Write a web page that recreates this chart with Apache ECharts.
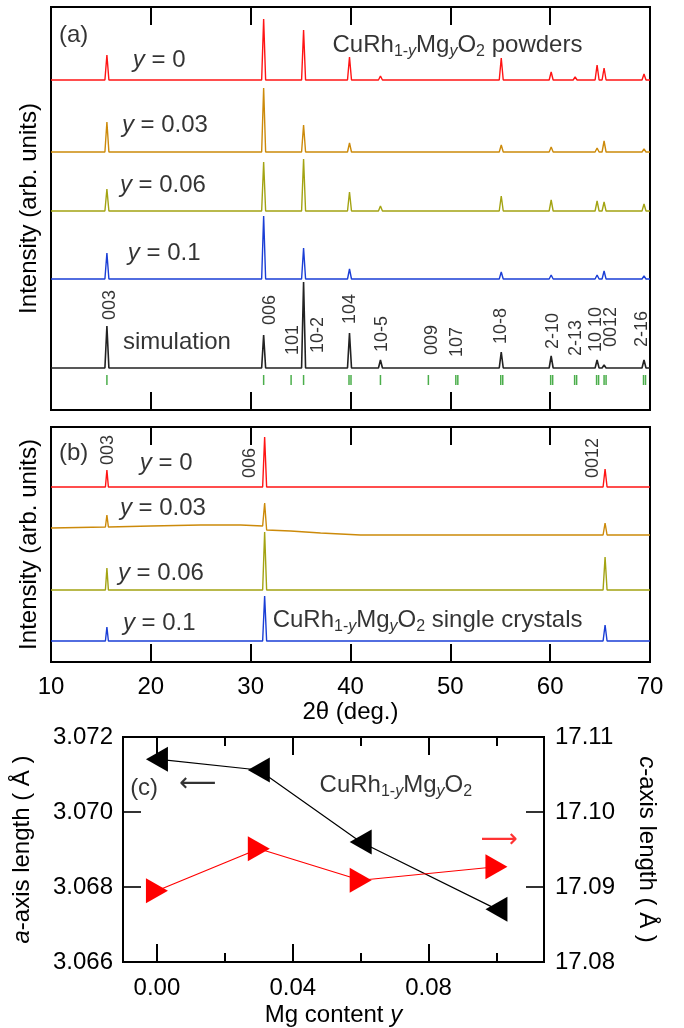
<!DOCTYPE html>
<html><head><meta charset="utf-8">
<script src="https://cdn.jsdelivr.net/npm/echarts@6/dist/echarts.min.js"></script>
<style>html,body{margin:0;padding:0;background:#fff}#c{width:684px;height:1028px}</style>
</head><body><div id="c"></div>
<script>
// ================= DATA =================
// Panel (a): powder XRD (arb. units), peak positions (2θ, deg) and peak heights
const peakNames = ['003','006','101','10-2','104','10-5','009','107','10-8','2-10','2-13','10 10','0012','2-16'];
const peakPos   = [15.6, 31.3, 34.1, 35.3, 39.9, 43.0, 47.8, 50.6, 55.1, 60.1, 62.5, 64.7, 65.4, 69.4];
const powderY000 = [25, 61, 0, 50, 23, 4, 0, 1.5, 22, 8, 3, 15, 12, 6];
const powderY003 = [30, 64, 0, 27, 9, 2, 0, 1, 7, 5, 1, 4, 11, 3];
const powderY006 = [22, 49, 0, 52, 19, 5, 0, 1, 15, 11, 2, 10, 9, 7];
const powderY010 = [26, 63, 0, 31, 10, 2, 0, 1, 7, 4, 1, 4, 8, 3];
const simulation = [42, 33, 1, 86, 35, 8, 0.5, 1, 16, 12, 2, 8, 3, 8];
const powderOffsets = [330, 258, 199, 131, 42];   // vertical offsets of the stacked curves
const braggPos = [15.6, 31.3, 34.05, 35.3, 39.85, 40.05, 43.0, 47.8, 50.55, 50.75, 55.05, 55.25,
                  60.05, 60.25, 62.45, 62.65, 64.65, 64.85, 65.4, 65.6, 69.35, 69.55];
const braggLevel = 30;

// Panel (b): single crystals [2θ, intensity (offset included)]
const xtalY000 = [[10,175],[15.45,175],[15.6,192],[15.75,175],[31.2,175],[31.4,225],[31.6,175],[65.3,175],[65.5,193],[65.7,175],[70,175]];
const xtalY003 = [[10,134],[15.45,135],[15.6,147],[15.75,135],[20,136],[25,137],[29,137],[31.2,136],[31.4,159],[31.6,132],[34,131],[37,129],[41,127],[50,127],[65.3,127],[65.5,139],[65.7,127],[70,127]];
const xtalY006 = [[10,72],[15.45,72],[15.6,94],[15.75,72],[31.2,72],[31.4,130],[31.6,72],[65.3,72],[65.5,105],[65.7,72],[70,72]];
const xtalY010 = [[10,21],[15.45,21],[15.6,35],[15.75,21],[31.2,21],[31.4,66],[31.6,21],[65.3,21],[65.5,37],[65.7,21],[70,21]];

// Panel (c): lattice parameters
const mgContent = [0.00, 0.03, 0.06, 0.10];
const aAxisLen  = [3.07141, 3.07112, 3.06920, 3.06741];
const cAxisLen  = [17.0895, 17.0951, 17.0909, 17.0927];

const twoThetaTicks = [10, 20, 30, 40, 50, 60, 70];
const mgMajorTicks = [0.00, 0.04, 0.08];
const mgMinorTicks = [0.02, 0.06, 0.10];
const aTicks = [3.068, 3.070];
const cTicks = [17.09, 17.10];

// ================= LAYOUT / STYLE =================
const FONT = '"Liberation Sans", Arial, Helvetica, sans-serif';
const FS = 24;
const colors = ['#ff1414', '#cc8a0a', '#a3a312', '#1a3ed6', '#222222'];
const rich = {
  n:  {fontFamily: FONT, fontSize: FS, lineHeight: 30, verticalAlign: 'middle', color: '#000'},
  i:  {fontFamily: FONT, fontSize: FS, fontStyle: 'italic', lineHeight: 30, verticalAlign: 'middle', color: '#000'},
  s:  {fontFamily: FONT, fontSize: 16, lineHeight: 14, verticalAlign: 'bottom', color: '#000'},
  si: {fontFamily: FONT, fontSize: 16, fontStyle: 'italic', lineHeight: 14, verticalAlign: 'bottom', color: '#000'},
  ar: {fontFamily: '"DejaVu Sans"', fontSize: 26, lineHeight: 30, verticalAlign: 'middle', color: '#000'},
  arr:{fontFamily: '"DejaVu Sans"', fontSize: 26, lineHeight: 30, verticalAlign: 'middle', color: '#ff0000'}
};
const formula = 'CuRh{s|1-}{si|y}Mg{si|y}O{s|2}';

// annotation anchors (data coordinates of each panel)
const annotA = [
  {v: [10.8, 375], t: '(a)'},
  {v: [18.2, 350], t: '{i|y} = 0'},
  {v: [17.1, 285], t: '{i|y} = 0.03'},
  {v: [16.9, 225], t: '{i|y} = 0.06'},
  {v: [17.7, 157], t: '{i|y} = 0.1'},
  {v: [17.2, 68],  t: 'simulation'},
  {v: [38.2, 365], t: formula + ' powders'}
];
const peakLabelX = [15.9, 31.9, 34.25, 36.7, 40.0, 43.2, 48.15, 50.7, 55.1, 60.3, 62.6, 64.6, 66.1, 69.25];
const peakLabelY = [90, 85, 55, 57, 86, 58, 55, 53, 66, 61, 54, 58, 63, 63];
const annotB = [
  {v: [10.8, 209], t: '(b)'},
  {v: [18.9, 199], t: '{i|y} = 0'},
  {v: [16.9, 154], t: '{i|y} = 0.03'},
  {v: [16.7, 89],  t: '{i|y} = 0.06'},
  {v: [17.2, 39],  t: '{i|y} = 0.1'},
  {v: [32.2, 42],  t: formula + ' single crystals'}
];
const peakLabelsB = [{v: [15.75, 197], t: '003'}, {v: [29.95, 184], t: '006'}, {v: [64.25, 184], t: '0012'}];
const annotC = [
  {v: [-0.0079, 3.07064], t: '(c)'},
  {v: [0.0065, 3.07075], t: '{ar|⟵}'},
  {v: [0.0479, 3.07072], t: formula},
  {v: [0.0953, 3.06925], t: '{arr|⟶}'}
];
const MG_MIN = -0.01, MG_MAX = 0.114;

// ================= BUILD =================
function pattern(base, heights) {
  const pts = [[10, base]];
  peakPos.forEach((p, k) => {
    const h = heights[k];
    if (h > 0) { pts.push([p - 0.2, base], [p, base + h], [p + 0.2, base]); }
  });
  pts.push([70, base]);
  return pts;
}
const powders = [powderY000, powderY003, powderY006, powderY010, simulation];

function textSeries(xi, yi, items, extraLabel) {
  return {
    type: 'scatter', xAxisIndex: xi, yAxisIndex: yi, symbolSize: 0, silent: true, z: 10, clip: false,
    data: items.map(o => ({value: o.v, name: o.t})),
    label: Object.assign({
      show: true, position: 'inside', align: 'left', verticalAlign: 'middle',
      formatter: p => p.name, fontFamily: FONT, fontSize: FS, color: '#000', lineHeight: 30, rich: rich
    }, extraLabel || {})
  };
}
// y-axis tick marks of panel (c), placed on the frame edges through the axis scales
function tickMarks(yi, xEdge, ticks, dir) {
  return {
    type: 'scatter', xAxisIndex: 4, yAxisIndex: yi, symbol: 'rect', symbolSize: [18, 2],
    symbolOffset: [dir * 9, 0], clip: false, silent: true, z: 6,
    itemStyle: {color: '#000'}, data: ticks.map(t => [xEdge, t])
  };
}

const tickStyle = (len) => ({show: true, inside: true, length: len, lineStyle: {color: '#000', width: 2}});
const noLine = {show: false, onZero: false};
function xA(grid, pos, extra) {
  return Object.assign({
    type: 'value', gridIndex: grid, position: pos, min: 10, max: 70, interval: 10,
    axisLine: noLine, axisTick: tickStyle(18), axisLabel: {show: false}, splitLine: {show: false}
  }, extra || {});
}
function xC(pos, ticks, len, labels) {
  return {
    type: 'value', gridIndex: 2, position: pos, min: MG_MIN, max: MG_MAX,
    axisLine: noLine,
    axisTick: Object.assign(tickStyle(len), {customValues: ticks}),
    axisLabel: labels ? {show: true, customValues: ticks, margin: 14, formatter: v => v.toFixed(2),
                         fontFamily: FONT, fontSize: FS, color: '#000'} : {show: false},
    splitLine: {show: false}
  };
}

const option = {
  animation: false,
  backgroundColor: '#fff',
  grid: [
    {left: 51, top: 7, width: 599, height: 403, show: true, borderColor: '#000', borderWidth: 2},
    {left: 51, top: 427, width: 599, height: 235, show: true, borderColor: '#000', borderWidth: 2},
    {left: 123, top: 737, width: 421, height: 225, show: true, borderColor: '#000', borderWidth: 2}
  ],
  xAxis: [
    xA(0, 'bottom'), xA(0, 'top'),
    xA(1, 'bottom', {
      axisLabel: {show: true, margin: 13, fontFamily: FONT, fontSize: FS, color: '#000',
                  customValues: twoThetaTicks},
      name: '2θ (deg.)', nameLocation: 'middle', nameGap: 36,
      nameTextStyle: {fontFamily: FONT, fontSize: FS, color: '#000'}
    }),
    xA(1, 'top'),
    Object.assign(xC('bottom', mgMajorTicks, 18, true), {
      name: 'Mg content {i|y}', nameLocation: 'middle', nameGap: 38,
      nameTextStyle: {fontFamily: FONT, fontSize: FS, color: '#000', rich: rich}
    }),
    xC('bottom', mgMinorTicks, 9, false),
    xC('top', mgMajorTicks, 18, false),
    xC('top', mgMinorTicks, 9, false)
  ],
  yAxis: [
    {type: 'value', gridIndex: 0, min: 0, max: 403, axisLine: noLine, axisTick: {show: false},
     axisLabel: {show: false}, splitLine: {show: false},
     name: 'Intensity (arb. units)', nameLocation: 'middle', nameGap: 10,
     nameTextStyle: {fontFamily: FONT, fontSize: FS, color: '#000'}},
    {type: 'value', gridIndex: 1, min: 0, max: 235, axisLine: noLine, axisTick: {show: false},
     axisLabel: {show: false}, splitLine: {show: false},
     name: 'Intensity (arb. units)', nameLocation: 'middle', nameGap: 10,
     nameTextStyle: {fontFamily: FONT, fontSize: FS, color: '#000'}},
    {type: 'value', gridIndex: 2, position: 'left', min: 3.066, max: 3.072, interval: 0.002,
     axisLine: noLine, axisTick: {show: false}, splitLine: {show: false},
     axisLabel: {margin: 10, formatter: v => v.toFixed(3), fontFamily: FONT, fontSize: FS, color: '#000'},
     name: '{i|a}-axis length ( Å )', nameLocation: 'middle', nameGap: 86,
     nameTextStyle: {fontFamily: FONT, fontSize: FS, color: '#000', rich: rich}},
    {type: 'value', gridIndex: 2, position: 'right', min: 17.08, max: 17.11, interval: 0.01,
     axisLine: noLine, axisTick: {show: false}, splitLine: {show: false},
     axisLabel: {margin: 11, formatter: v => v.toFixed(2), fontFamily: FONT, fontSize: FS, color: '#000'},
     name: '{i|c}-axis length ( Å )', nameLocation: 'middle', nameGap: 88, nameRotate: -90,
     nameTextStyle: {fontFamily: FONT, fontSize: FS, color: '#000', rich: rich}}
  ],
  series: [
    ...powders.map((h, k) => ({
      type: 'line', xAxisIndex: 0, yAxisIndex: 0, showSymbol: false, symbol: 'none',
      data: pattern(powderOffsets[k], h),
      lineStyle: {color: colors[k], width: k === 4 ? 1.6 : 1.4}, z: 3
    })),
    {type: 'scatter', xAxisIndex: 0, yAxisIndex: 0, symbol: 'rect', symbolSize: [1.5, 10],
     itemStyle: {color: '#1e9a1e'}, data: braggPos.map(p => [p, braggLevel]), silent: true},
    textSeries(0, 0, annotA),
    textSeries(0, 0, peakNames.map((n, k) => ({v: [peakLabelX[k], peakLabelY[k]], t: n})),
               {rotate: 90, fontSize: 18, lineHeight: 20}),
    ...[xtalY000, xtalY003, xtalY006, xtalY010].map((d, k) => ({
      type: 'line', xAxisIndex: 2, yAxisIndex: 1, showSymbol: false, symbol: 'none', data: d,
      lineStyle: {color: colors[k], width: 1.4}, z: 3
    })),
    textSeries(2, 1, annotB),
    textSeries(2, 1, peakLabelsB, {rotate: 90, fontSize: 18, lineHeight: 20}),
    tickMarks(2, MG_MIN, aTicks, 1),
    tickMarks(3, MG_MAX, cTicks, -1),
    {type: 'line', xAxisIndex: 4, yAxisIndex: 2, data: mgContent.map((m, k) => [m, aAxisLen[k]]),
     symbol: 'triangle', symbolSize: [25, 22], symbolRotate: 90, showSymbol: true,
     itemStyle: {color: '#000'}, lineStyle: {color: '#000', width: 1.2}, z: 4},
    {type: 'line', xAxisIndex: 4, yAxisIndex: 3, data: mgContent.map((m, k) => [m, cAxisLen[k]]),
     symbol: 'triangle', symbolSize: [25, 22], symbolRotate: -90, showSymbol: true,
     itemStyle: {color: '#ff0000'}, lineStyle: {color: '#ff0000', width: 1.2}, z: 4},
    textSeries(4, 2, annotC)
  ]
};
const chart = echarts.init(document.getElementById('c'), null, {renderer: 'canvas'});
chart.setOption(option);
</script></body></html>
